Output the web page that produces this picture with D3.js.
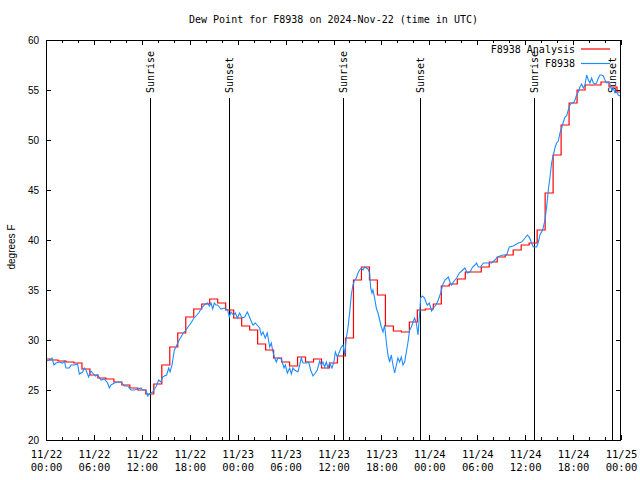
<!DOCTYPE html>
<html>
<head>
<meta charset="utf-8">
<script src="https://cdn.jsdelivr.net/npm/d3@7"></script>
<style>
  html, body { margin: 0; padding: 0; background: #fff; }
  svg { display: block; }
  .mono { font-family: "DejaVu Sans Mono", "Liberation Mono", monospace; }
  .sans { font-family: "Liberation Sans", Arial, sans-serif; }
</style>
</head>
<body>
<script>
// ---------------- DATA ----------------
const chartTitle = "Dew Point for F8938 on 2024-Nov-22 (time in UTC)";
const yLabel = "degrees F";
const seriesNames = ["F8938 Analysis", "F8938"];
const startTime = "2024-11-22T00:00:00Z";
const endTime = "2024-11-25T00:00:00Z";
const yTicks = [20, 25, 30, 35, 40, 45, 50, 55, 60];

// Analysis (hourly, hours since start)
const analysisHours = [0,1,2,3,4,5,6,7,8,9,10,11,12,13,14,15,16,17,18,19,20,21,22,23,
  24,25,26,27,28,29,30,31,32,33,34,35,36,37,38,39,40,41,42,43,44,45,46,47,
  48,49,50,51,52,53,54,55,56,57,58,59,60,61,62,63,64,65,66,67,68,69,70,71,72];
const analysisValues = [28.1,28.0,27.9,27.8,27.7,27.1,26.5,26.2,26.1,25.8,25.5,25.2,25.0,24.6,25.6,27.5,29.3,30.7,32.3,33.1,33.6,34.1,33.7,33.0,
  32.2,31.4,31.0,29.6,29.0,28.2,27.8,27.4,28.3,27.8,28.1,27.2,27.7,28.4,30.2,36.0,37.3,36.0,34.5,31.4,30.9,30.8,31.8,33.0,
  33.1,33.6,35.4,35.6,36.1,36.8,36.8,37.3,37.8,38.3,38.5,39.0,39.5,39.7,41.0,44.7,48.5,51.5,53.7,55.0,55.5,55.5,55.8,55.3,54.8];

// Observations (hours since start)
const obsHours = [0.00,0.50,0.75,1.00,1.25,1.67,2.09,2.30,2.50,2.92,3.13,3.55,3.96,4.17,4.59,4.80,5.01,5.34,5.63,5.84,
  6.18,6.47,6.89,7.30,7.72,7.93,8.14,8.56,8.97,9.39,9.81,10.23,10.64,11.06,11.48,11.89,12.10,12.52,12.73,12.94,
  13.36,13.56,13.77,14.11,14.40,14.61,14.82,15.11,15.36,15.53,15.78,16.07,16.28,16.49,16.69,16.90,17.20,17.53,17.86,18.16,
  18.45,18.78,19.12,19.41,19.70,19.95,20.24,20.45,20.66,20.87,21.08,21.29,21.49,21.70,21.91,22.33,22.75,22.95,23.16,23.46,
  23.71,23.96,24.25,24.54,24.87,25.21,25.38,25.63,25.92,26.21,26.54,26.75,26.96,27.17,27.45,27.71,28.01,28.21,28.42,28.63,
  28.84,29.05,29.47,29.80,29.97,30.22,30.51,30.72,30.93,31.14,31.55,31.76,31.97,32.18,32.60,32.89,33.14,33.43,33.72,33.97,
  34.27,34.47,34.68,34.89,35.10,35.31,35.52,35.81,36.06,36.23,36.48,36.64,36.98,37.19,37.40,37.60,37.81,38.02,38.23,38.44,
  38.65,38.86,39.07,39.27,39.48,39.69,39.90,40.11,40.32,40.53,40.65,40.82,40.94,41.15,41.36,41.57,41.78,41.99,42.20,42.40,
  42.61,42.82,43.03,43.24,43.45,43.66,43.87,44.07,44.28,44.49,44.70,44.91,45.12,45.33,45.54,45.75,45.96,46.16,46.37,46.58,
  46.79,46.91,47.12,47.41,47.62,47.75,48.00,48.29,48.50,48.83,49.12,49.42,49.67,49.96,50.38,50.58,50.79,51.00,51.42,51.75,
  52.05,52.46,52.75,53.09,53.42,53.71,53.92,54.13,54.42,54.76,55.18,55.80,56.22,56.43,56.84,57.26,57.68,58.01,58.51,59.14,
  59.56,59.98,60.27,60.52,60.81,61.02,61.44,61.65,61.85,62.19,62.48,62.69,62.90,63.11,63.31,63.52,63.73,63.94,64.15,64.36,
  64.57,64.78,64.99,65.19,65.40,65.61,65.82,66.03,66.24,66.44,66.65,66.86,67.07,67.28,67.49,67.70,67.91,68.11,68.32,68.53,
  68.74,68.95,69.16,69.37,69.57,69.78,69.99,70.20,70.41,70.62,70.83,71.04,71.24,71.45,71.66,71.87];
const obsValues = [27.9,28.0,28.2,27.5,27.7,27.8,27.7,27.9,27.2,27.2,27.5,27.5,27.6,26.6,26.8,27.2,27.0,26.3,26.9,26.7,
  26.4,26.5,26.0,26.1,25.7,25.2,25.5,25.7,25.8,25.8,25.4,25.4,25.0,25.0,25.1,25.2,25.0,25.0,24.4,24.6,
  24.8,25.1,25.3,26.0,25.8,26.3,26.4,26.5,27.2,26.8,27.5,29.0,29.3,29.7,30.0,30.3,30.7,31.0,31.4,31.7,
  32.1,32.4,32.7,33.1,33.4,33.6,33.7,33.4,33.7,33.1,33.7,33.5,33.5,33.3,33.1,33.2,33.0,32.3,32.8,32.5,
  32.7,32.2,32.7,32.2,32.3,32.8,32.5,32.0,31.5,31.7,31.4,31.2,30.5,30.8,30.2,30.7,29.3,29.7,28.8,28.2,
  27.8,28.2,28.1,27.2,27.5,26.7,27.2,26.6,27.2,27.0,26.8,27.5,28.2,27.7,27.7,27.8,27.0,26.4,26.7,27.0,
  27.9,27.5,27.8,27.3,27.8,27.2,27.7,27.2,27.8,28.8,28.3,28.6,29.3,29.5,28.5,30.2,31.2,32.7,34.5,35.5,
  36.0,36.2,36.7,37.0,37.2,37.0,37.3,37.2,37.1,36.7,35.2,34.7,35.0,34.2,33.2,32.7,32.0,31.3,30.8,31.5,
  29.8,28.5,27.8,28.5,27.5,26.7,27.5,28.2,27.8,28.3,27.5,27.8,28.8,29.8,31.0,31.3,31.8,32.2,31.7,30.5,
  32.7,34.2,34.4,34.2,33.7,33.5,33.7,32.9,33.2,33.5,34.0,34.7,35.5,36.0,36.3,35.8,35.5,35.8,36.2,36.7,
  36.9,37.2,36.7,36.8,37.3,37.5,37.7,37.3,37.3,37.7,37.7,37.7,38.0,38.2,38.4,38.5,38.5,39.3,39.4,39.7,
  39.8,40.2,40.5,40.3,39.7,39.3,39.3,39.8,40.5,41.0,42.0,43.3,45.0,46.3,47.7,48.5,49.2,49.7,49.9,50.7,
  51.2,51.8,52.3,52.4,53.0,53.5,53.7,53.7,54.0,54.5,54.8,55.3,55.6,55.2,55.5,56.5,56.0,55.7,56.2,55.7,
  55.6,55.7,56.2,56.5,56.5,56.4,56.0,55.7,55.8,55.6,55.0,55.2,54.7,54.8,54.5,54.4];

// Sunrise / sunset events (UTC)
const sunEvents = ["Sunrise", "Sunset", "Sunrise", "Sunset", "Sunrise", "Sunset"];
const sunTimes = ["2024-11-22T13:01:00Z", "2024-11-22T22:55:00Z", "2024-11-23T13:11:00Z",
                  "2024-11-23T22:50:00Z", "2024-11-24T13:07:00Z", "2024-11-24T22:52:00Z"];

// ---------------- CHART ----------------
const W = 640, H = 480;
const margin = {top: 40, right: 19, bottom: 40, left: 46};
const pw = W - margin.left - margin.right;
const ph = H - margin.top - margin.bottom;

const t0 = new Date(startTime).getTime();
const hourToDate = h => new Date(t0 + h * 3600000);

const svg = d3.select("body").append("svg").attr("width", W).attr("height", H);

const x = d3.scaleUtc().domain([new Date(startTime), new Date(endTime)]).range([margin.left, margin.left + pw]);
const y = d3.scaleLinear().domain([20, 60]).range([margin.top + ph, margin.top]);

// title
svg.append("text").attr("class", "mono")
  .attr("x", margin.left + pw / 2).attr("y", 23)
  .attr("text-anchor", "middle").attr("font-size", 10).text(chartTitle);

// y label
svg.append("text").attr("class", "sans")
  .attr("transform", `translate(11,247) rotate(-90)`)
  .attr("text-anchor", "middle").attr("dy", "0.35em")
  .attr("font-size", 10).text(yLabel);

// axes
const gxB = svg.append("g").attr("transform", `translate(0,${margin.top + ph})`)
  .call(d3.axisBottom(x).ticks(d3.utcHour.every(6)).tickSize(-5).tickPadding(0)
    .tickFormat(d => d3.utcFormat("%m/%d")(d) + "|" + d3.utcFormat("%H:%M")(d)));
gxB.select(".domain").remove();
gxB.selectAll(".tick text").each(function () {
  const t = d3.select(this);
  const parts = t.text().split("|");
  t.text(null).attr("y", null).attr("dy", null)
   .attr("class", "mono").attr("font-size", 10.5).attr("fill", "#000");
  t.append("tspan").attr("x", 0).attr("y", 18).text(parts[0]);
  t.append("tspan").attr("x", 0).attr("y", 31).text(parts[1]);
});
const gxBm = svg.append("g").attr("transform", `translate(0,${margin.top + ph})`)
  .call(d3.axisBottom(x).ticks(d3.utcHour.every(2)).tickSize(-3).tickFormat(""));
gxBm.select(".domain").remove();

const gxT = svg.append("g").attr("transform", `translate(0,${margin.top})`)
  .call(d3.axisTop(x).ticks(d3.utcHour.every(6)).tickSize(-5).tickFormat(""));
gxT.select(".domain").remove();
const gxTm = svg.append("g").attr("transform", `translate(0,${margin.top})`)
  .call(d3.axisTop(x).ticks(d3.utcHour.every(2)).tickSize(-3).tickFormat(""));
gxTm.select(".domain").remove();

const gyL = svg.append("g").attr("transform", `translate(${margin.left},0)`)
  .call(d3.axisLeft(y).tickValues(yTicks).tickSize(-5).tickPadding(7));
gyL.select(".domain").remove();
gyL.selectAll(".tick text").attr("class", "sans").attr("font-size", 10).attr("fill", "#000");
const gyR = svg.append("g").attr("transform", `translate(${margin.left + pw},0)`)
  .call(d3.axisRight(y).tickValues(yTicks).tickSize(-5).tickFormat(""));
gyR.select(".domain").remove();

svg.selectAll(".tick line").attr("stroke", "#000").attr("shape-rendering", "crispEdges");

// sunrise / sunset lines
const sun = svg.append("g");
sunTimes.forEach((s, i) => {
  const sx = Math.round(x(new Date(s))) + 0.5;
  sun.append("line").attr("x1", sx).attr("x2", sx).attr("y1", 98).attr("y2", margin.top + ph)
    .attr("stroke", "#000").attr("stroke-width", 1);
  sun.append("text").attr("class", "mono").attr("font-size", 10)
    .attr("transform", `translate(${sx},93) rotate(-90)`)
    .attr("dy", "0.35em").attr("text-anchor", "start").text(sunEvents[i]);
});

// series
const analysis = analysisHours.map((h, i) => ({t: hourToDate(h), v: analysisValues[i]}));
const obs = obsHours.map((h, i) => ({t: hourToDate(h), v: obsValues[i]}));

svg.append("path").datum(analysis)
  .attr("fill", "none").attr("stroke", "#ff0000").attr("stroke-width", 1.2)
  .attr("d", d3.line().x(d => x(d.t)).y(d => y(d.v)).curve(d3.curveStep));

svg.append("path").datum(obs)
  .attr("fill", "none").attr("stroke", "#1e8cff").attr("stroke-width", 1.1)
  .attr("d", d3.line().x(d => x(d.t)).y(d => y(d.v)));

// border
svg.append("rect").attr("x", margin.left + 0.5).attr("y", margin.top + 0.5)
  .attr("width", pw - 1).attr("height", ph).attr("fill", "none")
  .attr("stroke", "#000").attr("stroke-width", 1).attr("shape-rendering", "crispEdges");

// legend
const legend = svg.append("g").attr("class", "mono").attr("font-size", 10);
const legColors = ["#ff0000", "#1e8cff"];
seriesNames.forEach((n, i) => {
  const ly = 49 + i * 14.5;
  legend.append("text").attr("x", 575).attr("y", ly).attr("dy", "0.35em")
    .attr("text-anchor", "end").text(n);
  legend.append("line").attr("x1", 581).attr("x2", 610).attr("y1", ly).attr("y2", ly)
    .attr("stroke", legColors[i]).attr("stroke-width", 1.2);
});
</script>
</body>
</html>
